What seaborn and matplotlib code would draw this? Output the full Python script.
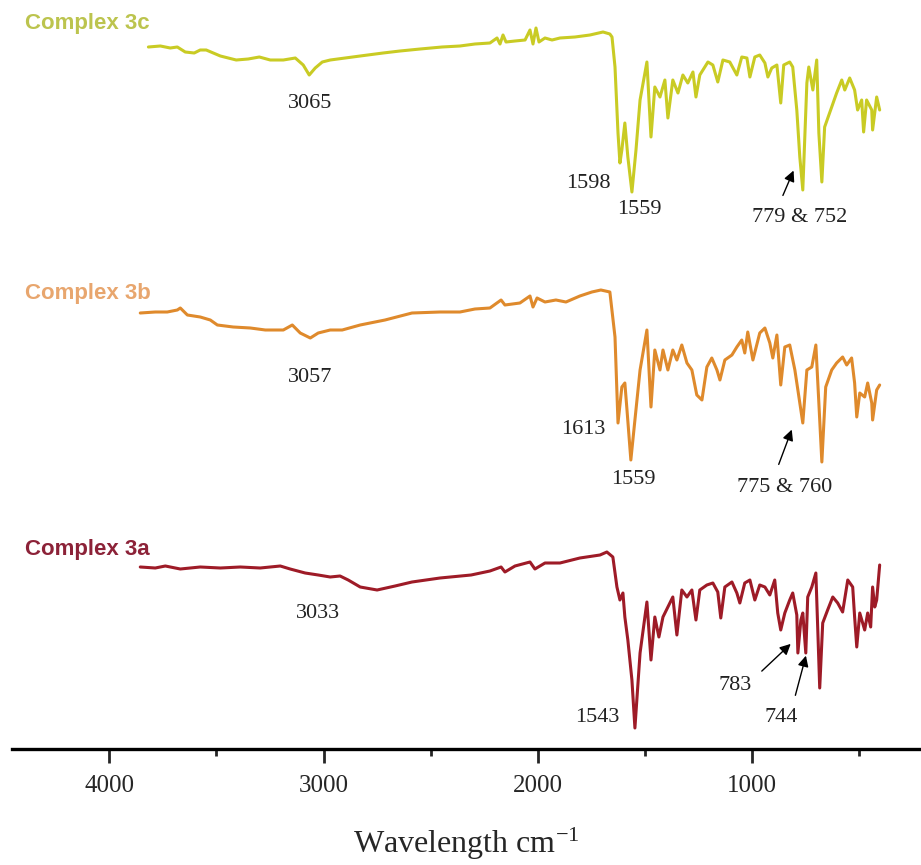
import numpy as np
import pandas as pd
import matplotlib
matplotlib.use("Agg")
import matplotlib.pyplot as plt
import seaborn as sns

# ---------------- data (wavenumber cm-1, relative transmittance a.u.) ----------------
wn_3c = [3818, 3762, 3716, 3683, 3646, 3604, 3576, 3548, 3482, 3408, 3352, 3300, 3249, 3188,
         3132, 3095, 3067, 3039, 3006, 2969, 2899, 2829, 2722, 2643, 2549, 2447, 2363, 2293,
         2223, 2190, 2176, 2162, 2148, 2106, 2059, 2036, 2022, 2008, 1994, 1966, 1933, 1896,
         1826, 1756, 1695, 1663, 1653, 1639, 1625, 1616, 1607, 1593, 1579, 1560, 1541, 1522,
         1490, 1471, 1453, 1429, 1406, 1392, 1369, 1345, 1322, 1299, 1275, 1261, 1243, 1205,
         1182, 1159, 1135, 1103, 1070, 1047, 1023, 1009, 986, 963, 939, 925, 907, 883, 865,
         851, 823, 809, 790, 776, 762, 743, 734, 715, 697, 687, 673, 660, 627, 604, 580, 566,
         543, 520, 506, 487, 478, 464, 440, 436, 417, 403]
t_3c = [142, 143, 141, 142, 137, 136, 139, 139, 133, 129, 130, 132, 129, 129,
        131, 124, 114, 121, 127, 129, 131, 133, 136, 138, 140, 142, 143, 145,
        146, 151, 145, 154, 147, 148, 149, 159, 145, 161, 147, 151, 149, 151,
        152, 154, 157, 155, 152, 122, 56, 26, 39, 66, 32, -3, 39, 89,
        127, 52, 102, 92, 109, 71, 109, 96, 114, 106, 117, 92, 114, 127,
        124, 107, 129, 127, 114, 132, 131, 112, 132, 134, 126, 112, 121, 124, 86,
        124, 127, 122, 79, 32, -1, 106, 122, 99, 129, 56, 7, 62, 82, 96, 109, 99,
        111, 99, 79, 89, 57, 89, 79, 59, 92, 79]

wn_3b = [3856, 3786, 3730, 3683, 3669, 3636, 3576, 3529, 3496, 3422, 3342, 3272, 3188, 3146,
         3109, 3062, 3025, 2969, 2913, 2829, 2713, 2587, 2456, 2363, 2293, 2223, 2171, 2153,
         2083, 2036, 2022, 2003, 1966, 1915, 1868, 1803, 1747, 1705, 1663, 1639, 1625, 1607,
         1593, 1583, 1565, 1546, 1522, 1490, 1471, 1453, 1429, 1415, 1392, 1369, 1350, 1327,
         1303, 1280, 1257, 1233, 1210, 1187, 1163, 1149, 1126, 1093, 1070, 1047, 1033, 1019,
         995, 963, 939, 916, 902, 883, 865, 846, 823, 799, 785, 762, 743, 720, 701, 687, 673,
         655, 627, 604, 576, 557, 534, 520, 510, 496, 473, 459, 440, 436, 417, 403]
t_3b = [136, 137, 137, 139, 141, 134, 132, 129, 124, 122, 121, 119, 119, 124,
        116, 111, 116, 119, 119, 124, 129, 136, 137, 137, 140, 141, 149, 144,
        146, 153, 142, 151, 147, 149, 147, 153, 157, 159, 157, 112, 26, 62,
        66, 39, -11, 29, 79, 119, 42, 99, 79, 99, 79, 99, 89, 104,
        86, 79, 54, 49, 82, 91, 79, 69, 89, 94, 102, 109, 96, 117,
        89, 116, 121, 106, 91, 114, 64, 102, 104, 79, 59, 26, 79, 82, 104, 46, -13,
        62, 79, 86, 92, 84, 91, 66, 32, 56, 52, 66, 46, 29, 59, 64]

wn_3a = [3856, 3786, 3739, 3669, 3576, 3482, 3389, 3296, 3202, 3156, 3086, 3025, 2969, 2923,
         2885, 2829, 2750, 2666, 2587, 2456, 2311, 2223, 2171, 2153, 2106, 2036, 2013, 1966,
         1896, 1803, 1709, 1677, 1649, 1630, 1616, 1602, 1593, 1579, 1560, 1546, 1522, 1490,
         1471, 1453, 1434, 1415, 1392, 1369, 1350, 1327, 1303, 1280, 1261, 1243, 1210, 1182,
         1159, 1145, 1126, 1093, 1070, 1056, 1033, 1009, 986, 963, 939, 916, 893, 879, 865,
         846, 823, 809, 790, 785, 771, 762, 748, 739, 720, 701, 692, 683, 669, 646, 622, 599,
         576, 552, 529, 520, 510, 496, 473, 459, 445, 436, 426, 417, 403]
t_3a = [182, 181, 183, 180, 182, 181, 182, 181, 183, 180, 176, 174, 172, 173,
        169, 162, 159, 163, 167, 171, 174, 178, 182, 177, 183, 187, 180, 186,
        186, 191, 194, 197, 192, 162, 149, 156, 132, 109, 69, 21, 96, 147,
        89, 132, 112, 132, 142, 152, 114, 159, 152, 159, 129, 159, 164, 166,
        157, 131, 162, 167, 156, 146, 166, 169, 149, 164, 162, 154, 169, 136, 119,
        136, 149, 156, 134, 96, 129, 136, 96, 152, 162, 176, 119, 61, 126, 139, 152, 146,
        137, 169, 162, 132, 102, 136, 119, 136, 122, 162, 142, 149, 184]

samples = ["Complex 3c", "Complex 3b", "Complex 3a"]
offsets = [560, 300, 0]
colors = ["#c9cb24", "#df8a2c", "#9e1b27"]
label_colors = ["#bcc44e", "#e8a66e", "#8c2238"]

# peak annotations: (text, x, y) per series
peak_labels_3c = [("3065", 3063, 646), ("1598", 1765, 566), ("1559", 1523, 539), ("779 & 752", 776, 531)]
peak_labels_3b = [("3057", 3063, 371), ("1613", 1789, 319), ("1559", 1551, 269), ("775 & 760", 846, 261)]
peak_labels_3a = [("3033", 3025, 136), ("1543", 1723, 31), ("783", 1079, 64), ("744", 865, 31)]
arrows = [((800, 581), (860, 551)), ((809, 322), (879, 282)),
          ((809, 107), (963, 76)), ((744, 96), (800, 51))]

frames = []
for name, wn, t, off in zip(samples, [wn_3c, wn_3b, wn_3a], [t_3c, t_3b, t_3a], offsets):
    frames.append(pd.DataFrame({"wn": wn, "T": np.array(t) + off, "sample": name}))
df = pd.concat(frames, ignore_index=True)

sns.set_style("white")
plt.rcParams["mathtext.fontset"] = "stix"
fig = plt.figure(figsize=(9.21, 8.65), dpi=100)
ax = fig.add_axes([12 / 921, 1 - 749 / 865, 1 - 12 / 921, 749 / 865])

sns.lineplot(data=df, x="wn", y="T", hue="sample", palette=dict(zip(samples, colors)),
             sort=False, estimator=None, legend=False, lw=2.2, ax=ax)

ax.set_xlim(4455, 210)
ax.set_ylim(0, 749)

serif = "Liberation Serif"
for s, y, c in zip(samples, [726, 456, 199], label_colors):
    ax.text(4392, y, s, color=c, fontsize=16, fontweight="bold",
            family="Liberation Sans", ha="left", va="center")

for txt, x, y in peak_labels_3c + peak_labels_3b + peak_labels_3a:
    ax.text(x, y, txt, fontsize=16, family=serif, color="#222222", ha="center", va="center")

for tip, tail in arrows:
    ax.annotate("", xy=tip, xytext=tail,
                arrowprops=dict(arrowstyle="-|>", color="black", lw=1.0, mutation_scale=16))

for sp in ["left", "top", "right"]:
    ax.spines[sp].set_visible(False)
ax.spines["bottom"].set_linewidth(2.4)
ax.spines["bottom"].set_color("black")
ax.set_yticks([])
ax.set_xticks([4000, 3000, 2000, 1000])
ax.set_xticks([3500, 2500, 1500, 500], minor=True)
ax.tick_params(axis="x", which="major", direction="out", length=10, width=2, pad=9,
               labelsize=18, bottom=True)
ax.tick_params(axis="x", which="minor", direction="out", length=5, width=2, bottom=True)
for lab in ax.get_xticklabels():
    lab.set_family(serif)
ax.set_xlabel("Wavelength cm$^{\\mathregular{-1}}$", fontsize=23, family=serif, labelpad=20)
ax.set_ylabel("")
ax.patch.set_alpha(0)

fig.savefig("out.png", dpi=100)
